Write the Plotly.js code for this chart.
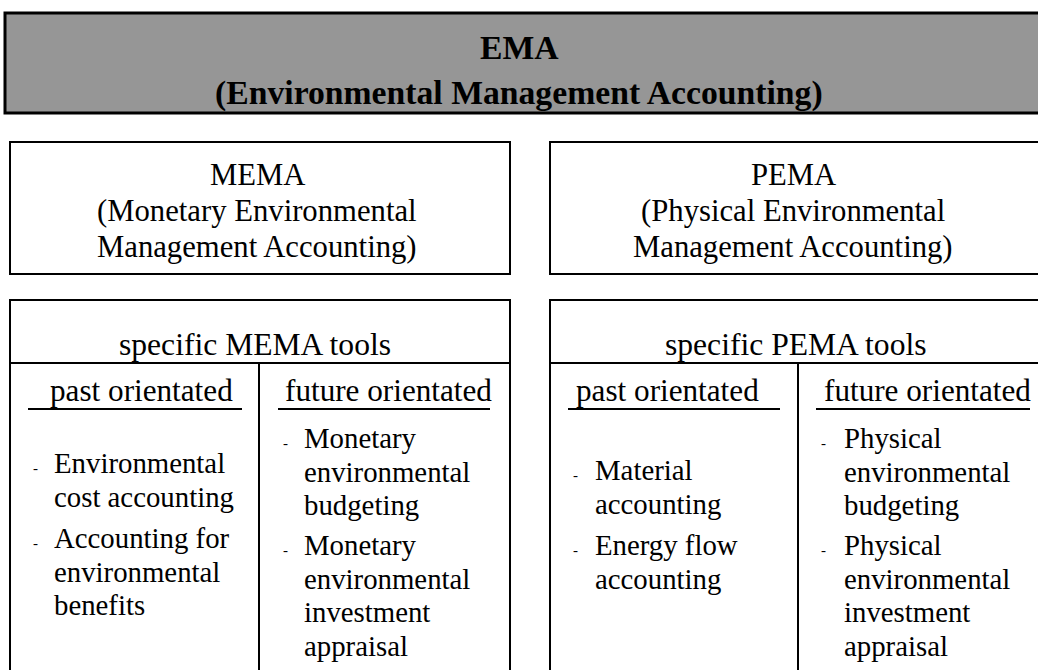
<!DOCTYPE html>
<html>
<head>
<meta charset="utf-8">
<script src="https://cdn.plot.ly/plotly-3.0.1.min.js"></script>
<style>html,body{margin:0;padding:0;background:#fff;}#chart{width:1038px;height:670px;}</style>
</head>
<body>
<div id="chart"></div>
<script>
// ---- content ----
const titleLines = ["EMA", "(Environmental Management Accounting)"];
const memaLines = ["MEMA", "(Monetary Environmental", "Management Accounting)"];
const pemaLines = ["PEMA", "(Physical Environmental", "Management Accounting)"];
const toolHeaders = ["specific MEMA tools", "specific PEMA tools"];
const orientations = ["past orientated", "future orientated"];
const memaPast = [["Environmental", "cost accounting"], ["Accounting for", "environmental", "benefits"]];
const memaFuture = [["Monetary", "environmental", "budgeting"], ["Monetary", "environmental", "investment", "appraisal"]];
const pemaPast = [["Material", "accounting"], ["Energy flow", "accounting"]];
const pemaFuture = [["Physical", "environmental", "budgeting"], ["Physical", "environmental", "investment", "appraisal"]];

// ---- layout helpers ----
const FONT = "Liberation Serif, Times New Roman, serif";
const shapes = [];
const annotations = [];

function rect(x0, y0, x1, y1, fill, w) {
  shapes.push({type: "rect", xref: "x", yref: "y", x0, y0, x1, y1,
    fillcolor: fill || "rgba(0,0,0,0)", line: {color: "#000", width: w || 2}, layer: "below"});
}
function line(x0, y0, x1, y1, w) {
  shapes.push({type: "line", xref: "x", yref: "y", x0, y0, x1, y1, line: {color: "#000", width: w || 2}});
}
function txt(text, x, y, size, anchor, bold) {
  annotations.push({text: bold ? "<b>" + text + "</b>" : text, x, y, xref: "x", yref: "y",
    showarrow: false, xanchor: anchor || "center", yanchor: "middle",
    font: {family: FONT, size, color: "#000"}});
}
function lines(arr, x, y0, spacing, size, anchor, bold) {
  arr.forEach((t, i) => txt(t, x, y0 + i * spacing, size, anchor, bold));
}
function bullets(items, dashX, textX, starts, spacing, size) {
  items.forEach((item, k) => {
    txt("-", dashX, starts[k] + 5, 15, "center");
    lines(item, textX, starts[k], spacing, size, "left");
  });
}

// EMA title box
rect(5, 13, 1048, 113, "#969696", 3);
lines(titleLines, 519, 47, 46, 33.7, "center", true);

// MEMA / PEMA boxes
rect(10, 142, 510, 274);
rect(550, 142, 1048, 274);
lines(memaLines, 257, 175, 36, 30.7, "center");
lines(pemaLines, 793, 175, 36, 30.7, "center");

// tools boxes
rect(10, 300, 510, 700);
rect(550, 300, 1048, 700);
line(10, 363, 510, 363);
line(550, 363, 1048, 363);
line(259, 363, 259, 700);
line(798, 363, 798, 700);
txt(toolHeaders[0], 255, 344, 31.6, "center");
txt(toolHeaders[1], 796, 344, 31.6, "center");

// orientation headers + underlines
txt(orientations[0], 141, 390, 31.2, "center");
txt(orientations[1], 388, 390, 31.2, "center");
txt(orientations[0], 667, 390, 31.2, "center");
txt(orientations[1], 927, 390, 31.2, "center");
line(28, 409, 242, 409);
line(278, 409, 490, 409);
line(568, 409, 780, 409);
line(816, 409, 1030, 409);

// bullet lists
bullets(memaPast, 35, 52, [463, 538], 33.5, 28.8);
bullets(memaFuture, 285, 302, [438, 545], 33.5, 28.8);
bullets(pemaPast, 575, 593, [470, 545], 33.5, 28.8);
bullets(pemaFuture, 823, 842, [438, 545], 33.5, 28.8);

const layout = {
  width: 1038, height: 670,
  margin: {l: 0, r: 0, t: 0, b: 0},
  paper_bgcolor: "#fff", plot_bgcolor: "#fff",
  xaxis: {range: [0, 1038], visible: false, fixedrange: true},
  yaxis: {range: [670, 0], visible: false, fixedrange: true},
  shapes, annotations, showlegend: false
};
Plotly.newPlot("chart", [], layout, {displayModeBar: false, staticPlot: true});
</script>
</body>
</html>
